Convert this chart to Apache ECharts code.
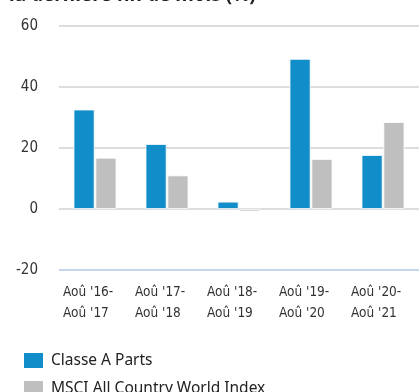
<!DOCTYPE html>
<html>
<head>
<meta charset="utf-8">
<script src="https://cdn.jsdelivr.net/npm/echarts@6/dist/echarts.min.js"></script>
<style>
  html, body { margin: 0; padding: 0; background: #ffffff; }
  #chart { width: 420px; height: 392px; }
</style>
</head>
<body>
<div id="chart"></div>
<script>
// Rolling 12-month total returns (%) per period
const periods = [
  ["Aoû '16-", "Aoû '17"],
  ["Aoû '17-", "Aoû '18"],
  ["Aoû '18-", "Aoû '19"],
  ["Aoû '19-", "Aoû '20"],
  ["Aoû '20-", "Aoû '21"]
];
const classeA = [32.6, 21.3, 2.4, 49.2, 17.7];
const msciAcwi = [16.8, 11.0, -0.8, 16.4, 28.5];
const seriesNames = ["Classe A Parts", "MSCI All Country World Index"];
const yTicks = { min: -20, max: 60, step: 20 };
const titleText = "la dernière fin de mois (%)";

const condensed = "'Liberation Sans Narrow', 'DejaVu Sans Condensed', sans-serif";

const chart = echarts.init(document.getElementById('chart'), null, { renderer: 'canvas' });

chart.setOption({
  animation: false,
  backgroundColor: '#ffffff',
  title: {
    text: titleText,
    left: 9,
    top: -14,
    padding: 0,
    textStyle: {
      fontFamily: "'Noto Sans', sans-serif",
      fontWeight: 'bold',
      fontSize: 19,
      color: '#222222'
    }
  },
  legend: {
    orient: 'vertical',
    left: 22,
    top: 351,
    height: 80,
    padding: 0,
    itemWidth: 21,
    itemHeight: 17,
    itemGap: 9,
    icon: 'rect',
    selectedMode: false,
    textStyle: {
      fontFamily: "'Noto Sans', sans-serif",
      fontSize: 15.5,
      color: '#222222',
      padding: [0, 0, 0, 2]
    },
    data: seriesNames
  },
  grid: {
    left: 59,
    right: 1,
    top: 26,
    bottom: 122,
    containLabel: false
  },
  xAxis: {
    type: 'category',
    data: periods.map(p => p.join('\n')),
    axisLine: { show: false },
    axisTick: { show: false },
    axisLabel: {
      interval: 0,
      margin: 12,
      align: 'center',
      formatter: function (v) {
        return v.split('\n').map(s => '{a|' + s + '}').join('\n');
      },
      rich: {
        a: {
          width: 64,
          align: 'left',
          fontFamily: condensed,
          fontSize: 13.5,
          lineHeight: 21,
          color: '#333333'
        }
      }
    }
  },
  yAxis: {
    type: 'value',
    min: yTicks.min,
    max: yTicks.max,
    interval: yTicks.step,
    axisLine: { show: false },
    axisTick: { show: false },
    axisLabel: {
      margin: 21,
      fontFamily: condensed,
      fontSize: 15,
      color: '#333333'
    },
    splitLine: {
      lineStyle: {
        width: 2,
        color: ['#c7d5ea', '#dddddd', '#dddddd', '#dddddd', '#dddddd']
      }
    }
  },
  series: [
    {
      name: seriesNames[0],
      type: 'bar',
      data: classeA,
      barWidth: 21,
      barGap: '4%',
      itemStyle: { color: '#118ec9', borderColor: '#ffffff', borderWidth: 0.8 }
    },
    {
      name: seriesNames[1],
      type: 'bar',
      data: msciAcwi,
      barWidth: 21,
      itemStyle: { color: '#bfbfbf', borderColor: '#ffffff', borderWidth: 0.8 }
    }
  ]
});
</script>
</body>
</html>
